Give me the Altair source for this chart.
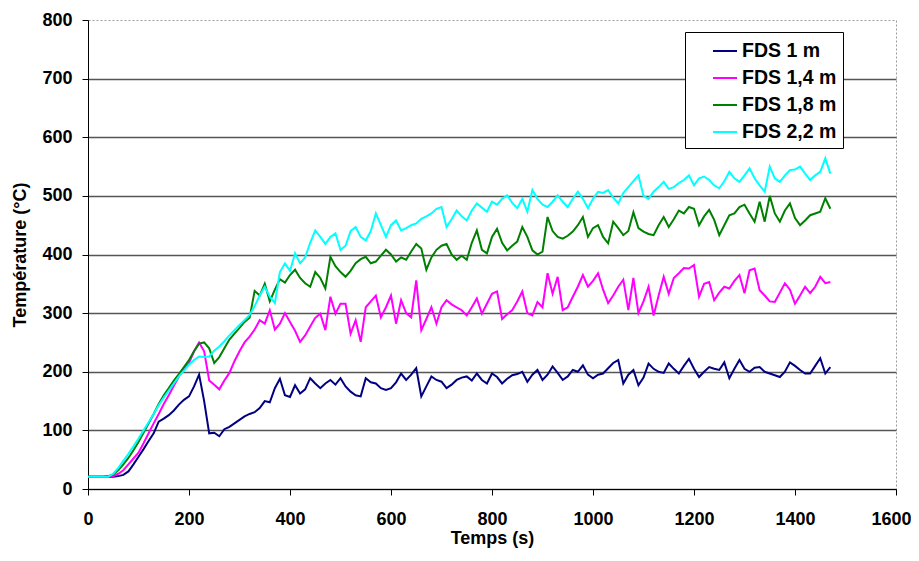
import altair as alt
import pandas as pd

# ---- data ----
times = list(range(0, 1480, 10))  # s

series_names = ["FDS 1 m", "FDS 1,4 m", "FDS 1,8 m", "FDS 2,2 m"]
series_colors = ["#000080", "#ff00ff", "#008000", "#00ffff"]

fds_1m = [
    21, 21, 21, 21, 21, 21, 22, 24, 30, 42,
    55, 68, 82, 95, 115, 120, 126, 134, 144, 152,
    158, 175, 195, 150, 95, 96, 90, 102, 106, 112,
    118, 124, 128, 131, 138, 150, 148, 172, 188, 160,
    157, 177, 163, 170, 189, 180, 172, 180, 186, 178,
    189, 175, 166, 160, 158, 189, 182, 180, 172, 169,
    172, 182, 197, 186, 195, 206, 158, 175, 192, 186,
    183, 172, 178, 186, 190, 192, 185, 197, 186, 180,
    197, 191, 180, 188, 194, 196, 200, 183, 195, 203,
    186, 195, 209, 198, 186, 192, 203, 200, 211, 195,
    189, 195, 197, 206, 215, 220, 180, 195, 203, 177,
    190, 214, 205, 200, 198, 214, 205, 197, 210, 222,
    205, 191, 200, 208, 205, 203, 216, 189, 205, 220,
    205, 200, 207, 208, 200, 197, 194, 191, 200, 216,
    210, 203, 197, 197, 210, 223, 197, 208,
]

fds_1_4m = [
    21, 21, 21, 21, 21, 22, 26, 32, 42, 52,
    62, 78, 95, 112, 128, 145, 160, 176, 192, 205,
    215, 235, 250, 235, 185, 178, 170, 185, 198, 218,
    235, 250, 260, 272, 288, 282, 305, 272, 282, 300,
    285, 270, 251, 262, 277, 292, 299, 271, 328, 299,
    316, 316, 265, 288, 251, 310, 320, 330, 293, 310,
    330, 282, 322, 300, 293, 356, 271, 290, 310, 282,
    310, 322, 315, 310, 305, 296, 310, 325, 299, 316,
    333, 337, 290, 298, 305, 320, 337, 300, 296, 319,
    310, 368, 333, 362, 305, 310, 328, 345, 365, 345,
    355, 368, 340, 317, 330, 345, 357, 305, 360, 300,
    320, 345, 296, 330, 362, 333, 360, 368, 377, 376,
    382, 328, 350, 353, 322, 335, 345, 342, 355, 365,
    334, 373, 376, 339, 330, 320, 319, 335, 351, 340,
    316, 330, 345, 334, 345, 362, 351, 353,
]

fds_1_8m = [
    21, 21, 21, 21, 22, 25, 32, 42, 53, 66,
    80, 96, 112, 128, 145, 160, 172, 185, 196, 208,
    220, 235, 248, 250, 240, 215, 225, 240, 255, 265,
    275, 285, 292, 338, 330, 350, 320, 340, 358, 352,
    365, 374, 360, 351, 345, 370, 360, 342, 396, 380,
    370, 362, 372, 385, 392, 396, 385, 388, 398, 408,
    400, 388, 395, 391, 405, 418, 410, 374, 395, 408,
    415, 418, 400, 391, 398, 391, 420, 441, 408, 402,
    430, 444, 420, 407, 415, 422, 447, 430, 407, 400,
    405, 464, 440, 430, 427, 432, 439, 450, 464, 430,
    445, 450, 430, 419, 456, 445, 433, 440, 472, 445,
    439, 435, 433, 450, 464, 447, 460, 475, 470, 481,
    478, 450, 465, 476, 459, 433, 450, 467, 470, 481,
    485, 470, 456, 490, 456, 500, 470, 456, 475, 487,
    462, 450, 458, 467, 470, 473, 496, 478,
]

fds_2_2m = [
    21, 21, 21, 21, 21, 26, 36, 48, 60, 73,
    86, 100, 114, 128, 143, 156, 168, 180, 192, 202,
    212, 220, 226, 225, 226, 236, 243, 252, 262, 271,
    280, 288, 297, 312, 330, 345, 328, 317, 370, 385,
    372, 402, 385, 395, 420, 441, 430, 418, 430, 436,
    408, 415, 440, 447, 430, 424, 440, 470, 450, 430,
    450, 458, 441, 445, 450, 453, 461, 465, 470, 478,
    481, 447, 460, 475, 465, 458, 475, 487, 480, 473,
    490, 485, 495, 501, 488, 479, 495, 473, 510, 495,
    485, 481, 490, 501, 490, 481, 495, 507, 495, 479,
    495, 507, 505, 510, 497, 487, 505, 515, 525, 535,
    500, 495, 507, 515, 524, 512, 515, 522, 527, 535,
    518, 530, 533, 527, 518, 513, 525, 541, 530, 524,
    535, 547, 530, 518, 507, 550, 530, 524, 535, 544,
    545, 550, 538, 527, 535, 541, 564, 538,
]

x_ticks = [0, 200, 400, 600, 800, 1000, 1200, 1400, 1600]
y_ticks = [0, 100, 200, 300, 400, 500, 600, 700, 800]

rows = []
for name, vals in zip(series_names, [fds_1m, fds_1_4m, fds_1_8m, fds_2_2m]):
    for t, v in zip(times, vals):
        rows.append({"Temps": t, "Temperature": v, "Serie": name})
df = pd.DataFrame(rows)

FONT = "Liberation Sans"

chart = alt.Chart(df).mark_line(strokeWidth=2).encode(
    x=alt.X(
        "Temps:Q",
        scale=alt.Scale(domain=[0, 1600], nice=False, zero=True),
        axis=alt.Axis(
            values=x_ticks, format="d", title="Temps (s)", grid=False,
            labelFlush=False, labelPadding=15, titlePadding=1,
            labelOffset={"condition": {"test": "datum.value >= 1600", "value": -5}, "value": 0},
        ),
    ),
    y=alt.Y(
        "Temperature:Q",
        scale=alt.Scale(domain=[0, 800], nice=False),
        axis=alt.Axis(
            values=y_ticks, format="d", title="Température (°C)", grid=True,
            gridColor={"condition": {"test": "datum.value >= 800", "value": "transparent"},
                       "value": "#555555"},
            gridWidth=1.5,
            labelPadding=10, titlePadding=12,
        ),
    ),
    color=alt.Color(
        "Serie:N",
        scale=alt.Scale(domain=series_names, range=series_colors),
        legend=alt.Legend(
            title=None, orient="none", legendX=597, legendY=12,
            strokeColor="black", fillColor="white", padding=6,
            symbolType="stroke", symbolSize=576, symbolStrokeWidth=2,
            symbolOffset=21, labelOffset=4,
            labelFont=FONT, labelFontSize=19.5, labelFontWeight="bold",
            labelColor="black", rowPadding=4,
        ),
    ),
).properties(
    width=808,
    height=469,
    autosize=alt.AutoSizeParams(type="none"),
    padding={"left": 80, "top": 12, "right": 15, "bottom": 59},
).configure_view(
    stroke="#9a9a9a", strokeDash=[2, 2], strokeWidth=1,
).configure_axis(
    labelFont=FONT, labelFontSize=18, labelFontWeight="bold", labelColor="black",
    titleFont=FONT, titleFontSize=18, titleFontWeight="bold", titleColor="black",
    domainColor="black", domainWidth=1, tickColor="black", tickSize=6, tickWidth=1,
)

chart.save("out.html", embed_options={"renderer": "svg", "actions": False})
